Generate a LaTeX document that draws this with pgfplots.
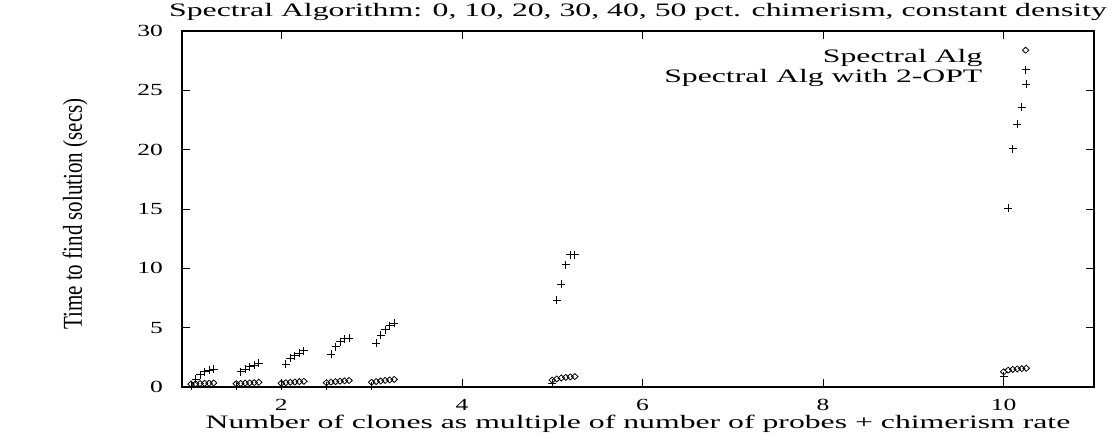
\documentclass[border=0pt]{standalone}
\usepackage{pgfplots}
\pgfplotsset{compat=1.18}
\usepackage{fontspec}
\setmainfont{Liberation Serif}
\usepackage{graphicx}
\newcommand{\sx}[1]{\scalebox{1.5}[1]{#1}}
\newcommand{\sxl}[1]{\scalebox{1.67}[1]{\fontsize{19}{21}\selectfont #1}}

\pgfplotstableread{
x y
1.00 0.25
1.05 0.27
1.10 0.29
1.15 0.31
1.20 0.32
1.25 0.34
1.50 0.28
1.55 0.30
1.60 0.33
1.65 0.35
1.70 0.37
1.75 0.40
2.00 0.32
2.05 0.36
2.10 0.40
2.15 0.42
2.20 0.45
2.25 0.48
2.50 0.36
2.55 0.41
2.60 0.45
2.65 0.49
2.70 0.52
2.75 0.55
3.00 0.40
3.05 0.46
3.10 0.51
3.15 0.56
3.20 0.60
3.25 0.64
5.00 0.58
5.05 0.68
5.10 0.76
5.15 0.81
5.20 0.85
5.25 0.88
10.00 1.28
10.05 1.42
10.10 1.48
10.15 1.52
10.20 1.55
10.25 1.58
}\spectral

\pgfplotstableread{
x y
1.00 0.05
1.05 0.65
1.10 1.05
1.15 1.30
1.20 1.42
1.25 1.50
1.50 0.05
1.55 1.30
1.60 1.52
1.65 1.70
1.70 1.85
1.75 2.02
2.00 0.05
2.05 1.94
2.10 2.42
2.15 2.62
2.20 2.85
2.25 3.06
2.50 0.05
2.55 2.78
2.60 3.40
2.65 3.82
2.70 4.08
2.75 4.10
3.00 0.05
3.05 3.68
3.10 4.38
3.15 4.81
3.20 5.17
3.25 5.37
5.00 0.30
5.05 7.31
5.10 8.66
5.15 10.29
5.20 11.16
5.25 11.16
10.00 0.93
10.05 15.07
10.10 20.07
10.15 22.15
10.20 23.58
10.25 25.52
}\twoopt

\begin{document}
\begin{tikzpicture}
\useasboundingbox (-182pt,-50pt) rectangle (932pt,387pt);
\begin{axis}[
  at={(0pt,0pt)}, anchor=south west,
  scale only axis, width=912pt, height=356pt,
  xmin=0.9, xmax=11, ymin=0, ymax=30,
  xtick={2,4,6,8,10}, ytick={0,5,10,15,20,25,30},
  tick align=inside, major tick length=8pt,
  tick style={black, line width=0.8pt},
  axis line style={line width=1.6pt},
  font=\fontsize{17}{20}\selectfont,
  /pgf/number format/assume math mode=true,
  xticklabel={\sx{\pgfmathprintnumber{\tick}}},
  yticklabel={\sx{\pgfmathprintnumber{\tick}}},
  xticklabel style={anchor=base, inner sep=0pt, yshift=-23pt},
  yticklabel style={anchor=east, inner sep=0pt, xshift=-19pt},
  title={\sxl{Spectral Algorithm: 0, 10, 20, 30, 40, 50 pct. chimerism, constant density}},
  title style={at={(0.5,1)}, anchor=base, inner sep=0pt, yshift=9pt},
  xlabel={\sxl{Number of clones as multiple of number of probes + chimerism rate}},
  xlabel style={at={(0.5,0)}, anchor=base, inner sep=0pt, yshift=-41pt},
  ylabel={\scalebox{1}[1.3]{\fontsize{21}{24}\selectfont Time to find solution (secs)}},
  ylabel style={at={(axis description cs:-0.117,0.486)}, anchor=center, rotate=0},
  legend style={draw=none, fill=none, at={(rel axis cs:1,1)}, anchor=north east,
    xshift=-63pt, yshift=-16pt, row sep=0pt, column sep=0pt, inner sep=0pt,
    nodes={inner sep=0pt, text height=14pt, text depth=2.7pt}},
  legend plot pos=right, legend cell align=right,
  myleg/.style={legend image code/.code={\draw[##1] plot coordinates {(43pt,7pt)}; \path (0pt,0pt) (48pt,0pt);}},
]
\addplot[only marks, mark=diamond, mark size=3pt, mark options={xscale=1.45, line width=0.8pt}, myleg] table {\spectral};
\addlegendentry{\sxl{Spectral Alg}}
\addplot[only marks, mark=+, mark size=4pt, mark options={line width=0.9pt}, myleg] table {\twoopt};
\addlegendentry{\sxl{Spectral Alg with 2-OPT}}
\end{axis}
\end{tikzpicture}
\end{document}
